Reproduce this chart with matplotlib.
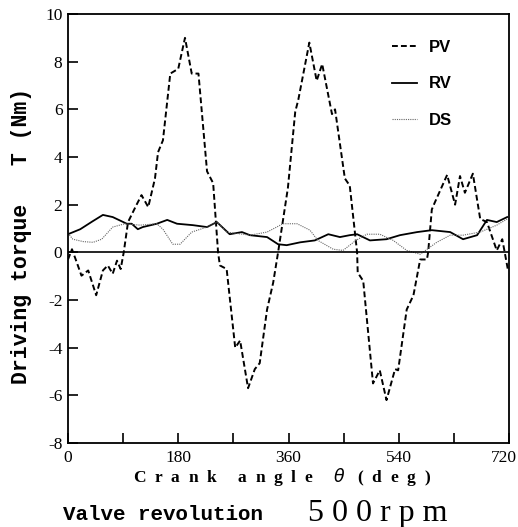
import matplotlib
matplotlib.use("Agg")
import matplotlib.pyplot as plt
from matplotlib.transforms import ScaledTranslation

plt.rcParams['axes.unicode_minus'] = False

# ---- data ----
pv_x = [0, 6.5, 14, 22, 33, 46, 57, 65, 73, 80, 86, 91, 98, 112, 120, 131, 142, 147, 155,
        167, 180, 191, 202, 213, 227, 237, 245, 248, 259, 273, 281, 294, 305, 313, 325, 335,
        343, 359, 371, 376, 394, 406, 415, 431, 436, 452, 460, 472, 473, 482, 498, 509, 520,
        534, 539, 553, 564, 575, 586, 588, 594, 599, 619, 632, 640, 648, 661, 673, 684, 700,
        709, 713, 718]
pv_y = [-0.3, 0.13, -0.4, -0.98, -0.76, -1.8, -0.76, -0.55, -0.9, -0.35, -0.7, 0.0, 1.27, 2.0,
        2.4, 1.9, 3.1, 4.2, 4.7, 7.5, 7.7, 9.0, 7.5, 7.5, 3.4, 2.9, 0.0, -0.55, -0.7, -4.0,
        -3.7, -5.7, -4.9, -4.65, -2.4, -1.27, 0.0, 2.7, 5.9, 6.4, 8.8, 7.2, 7.9, 5.8, 6.0,
        3.1, 2.8, 0.0, -0.85, -1.2, -5.5, -4.95, -6.2, -4.9, -4.95, -2.4, -1.8, -0.3, -0.3,
        0.0, 1.8, 2.1, 3.25, 2.0, 3.2, 2.5, 3.3, 1.4, 1.27, 0.08, 0.55, 0.0, -0.7]

rv_x = [0, 20, 40, 57, 73, 96, 104, 114, 122, 145, 162, 178, 204, 227, 243, 264, 284, 297,
        325, 343, 357, 379, 403, 425, 444, 460, 472, 493, 520, 542, 570, 594, 624, 645, 668,
        684, 700, 717]
rv_y = [0.76, 0.97, 1.3, 1.57, 1.48, 1.2, 1.2, 0.97, 1.06, 1.2, 1.36, 1.2, 1.14, 1.06, 1.27,
        0.76, 0.85, 0.72, 0.64, 0.34, 0.3, 0.42, 0.5, 0.76, 0.64, 0.72, 0.76, 0.5, 0.55, 0.72,
        0.85, 0.93, 0.85, 0.55, 0.72, 1.36, 1.27, 1.48]

ds_x = [0, 8, 25, 41, 55, 73, 93, 118, 145, 155, 171, 183, 202, 227, 243, 259, 297, 325, 351,
        374, 395, 408, 433, 449, 470, 488, 509, 531, 553, 575, 602, 624, 645, 673, 700, 717]
ds_y = [0.8, 0.55, 0.45, 0.42, 0.55, 1.06, 1.2, 1.14, 1.2, 0.97, 0.34, 0.34, 0.85, 1.06, 1.27,
        0.85, 0.72, 0.85, 1.2, 1.2, 0.93, 0.5, 0.13, 0.08, 0.5, 0.76, 0.76, 0.5, 0.08, -0.08,
        0.42, 0.72, 0.72, 0.85, 1.14, 1.4]

series_labels = ["PV", "RV", "DS"]
x_ticks = [0, 90, 180, 270, 360, 450, 540, 630, 720]
x_ticklabels = ["0", "", "180", "", "360", "", "540", "", "720"]
y_ticks = [-8, -6, -4, -2, 0, 2, 4, 6, 8, 10]

# ---- figure ----
fig = plt.figure(figsize=(5.18, 5.27), dpi=100)
ax = fig.add_axes([68 / 518, 1 - 443 / 527, 441 / 518, 429 / 527])

ax.plot(pv_x, pv_y, color="black", lw=1.4, linestyle=(0, (3, 1.6)), label=series_labels[0])
ax.plot(rv_x, rv_y, color="black", lw=1.3, linestyle="-", label=series_labels[1])
ax.plot(ds_x, ds_y, color="#666666", lw=0.8, linestyle=(0, (1, 1)), label=series_labels[2])
ax.axhline(0, color="black", lw=1.2)

ax.set_xlim(0, 720)
ax.set_ylim(-8, 10)
ax.set_xticks(x_ticks)
ax.set_xticklabels(x_ticklabels)
ax.set_yticks(y_ticks)
ax.tick_params(direction="in", length=7, width=1.2, labelsize=12.5, pad=4)
ax.tick_params(axis="x", pad=5)
for lab in ax.get_xticklabels() + ax.get_yticklabels():
    lab.set_family("Liberation Serif")
last = ax.get_xticklabels()[-1]
last.set_horizontalalignment("right")
last.set_transform(last.get_transform() + ScaledTranslation(8 / 100, 0, fig.dpi_scale_trans))
for sp in ax.spines.values():
    sp.set_linewidth(1.3)

leg = ax.legend(loc="upper left", bbox_to_anchor=(0.735, 0.94), frameon=False,
                handlelength=1.5, handletextpad=0.7, labelspacing=1.3, borderpad=0,
                borderaxespad=0, prop={"family": "Liberation Sans", "weight": "bold", "size": 12})

fig.text(22 / 518, 1 - 236 / 527, "Driving torque   T (Nm)", rotation=90, ha="center",
         va="center", family="Liberation Mono", weight="bold", fontsize=15.5)
fig.text(282 / 518, 1 - 477 / 527,
         "C  r  a  n  k     a  n  g  l  e     $\\theta$   (  d  e  g  )",
         ha="center", va="center", family="Liberation Serif", weight="bold", fontsize=12.5)
fig.text(63 / 518, 1 - 514 / 527, "Valve revolution", ha="left", va="center",
         family="Liberation Mono", weight="bold", fontsize=15)
fig.text(308 / 518, 1 - 514 / 527, "5 0 0 r p m", ha="left", va="center",
         family="Liberation Serif", fontsize=23)

fig.savefig("out.png", dpi=100)
